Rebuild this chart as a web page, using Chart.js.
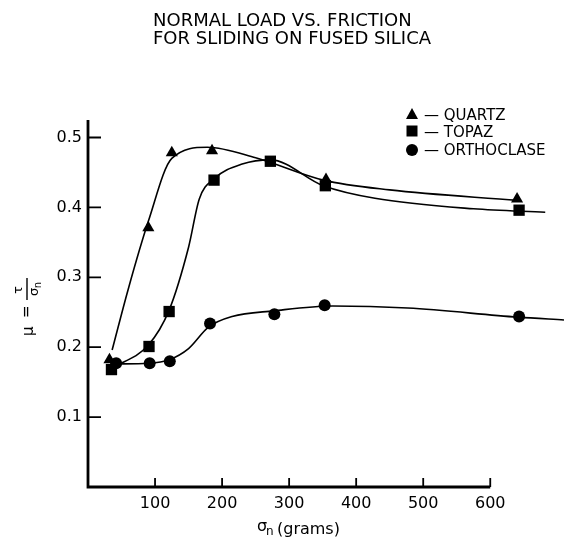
<!DOCTYPE html>
<html>
<head>
<meta charset="utf-8">
<script src="https://cdn.jsdelivr.net/npm/chart.js"></script>
<style>
  body { margin: 0; background: #fff; }
  #wrap { width: 572px; height: 538px; position: relative; }
</style>
</head>
<body>
<div id="wrap"><canvas id="chart"></canvas></div>
<script>
// measured points (load in grams, friction coefficient)
const quartzLoad = [32, 90, 125, 185, 355, 640];
const quartzMu = [0.182, 0.371, 0.478, 0.481, 0.440, 0.412];
const topazLoad = [35, 91, 121, 188, 272, 354, 643];
const topazMu = [0.168, 0.201, 0.251, 0.439, 0.466, 0.431, 0.396];
const orthoLoad = [42, 92, 122, 182, 278, 353, 643];
const orthoMu = [0.177, 0.177, 0.180, 0.234, 0.247, 0.260, 0.244];

// hand drawn fitted curves
const quartzCurveX = [36, 60, 90, 125, 178, 250, 351, 450, 640];
const quartzCurveY = [0.196, 0.283, 0.38, 0.47, 0.486, 0.471, 0.439, 0.425, 0.41];
const topazCurveX = [35, 90, 121, 150, 166, 188, 230, 272, 351, 428, 575, 682];
const topazCurveY = [0.17, 0.203, 0.253, 0.343, 0.412, 0.441, 0.462, 0.468, 0.431, 0.413, 0.398, 0.393];
const orthoCurveX = [40, 91, 121, 150, 180, 215, 277, 365, 477, 641, 710];
const orthoCurveY = [0.176, 0.177, 0.182, 0.198, 0.229, 0.244, 0.252, 0.259, 0.256, 0.243, 0.239];

const xTicks = [100, 200, 300, 400, 500, 600];
const yTicks = [0.1, 0.2, 0.3, 0.4, 0.5];
const legendNames = ['QUARTZ', 'TOPAZ', 'ORTHOCLASE'];

const FONT = '"DejaVu Sans", sans-serif';

function pts(xs, ys) {
  return xs.map((x, i) => ({ x: x, y: ys[i] }));
}

function curve(xs, ys) {
  return {
    data: pts(xs, ys),
    showLine: true,
    borderColor: '#000',
    borderWidth: 1.6,
    pointRadius: 0,
    cubicInterpolationMode: 'monotone',
    order: 2
  };
}

function marks(xs, ys, style, r) {
  return {
    data: pts(xs, ys),
    showLine: false,
    pointStyle: style,
    pointRadius: r,
    pointHoverRadius: r,
    backgroundColor: '#000',
    borderColor: '#000',
    borderWidth: 0,
    order: 1
  };
}

// axes lines, ticks, titles and legend drawn on top of chart
const decor = {
  id: 'decor',
  afterDraw(chart) {
    const ctx = chart.ctx;
    const xs = chart.scales.x, ys = chart.scales.y;
    const x0 = xs.getPixelForValue(0), x600 = xs.getPixelForValue(600);
    const yb = ys.getPixelForValue(0), yt = ys.getPixelForValue(0.525);
    ctx.save();
    ctx.strokeStyle = '#000';
    ctx.lineWidth = 2.8;
    ctx.beginPath();
    ctx.moveTo(x0, yt);
    ctx.lineTo(x0, yb);
    ctx.lineTo(x600, yb);
    ctx.stroke();
    ctx.lineWidth = 1.8;
    ctx.beginPath();
    xTicks.forEach(v => {
      const px = xs.getPixelForValue(v);
      ctx.moveTo(px, yb);
      ctx.lineTo(px, yb - 9);
    });
    yTicks.forEach(v => {
      const py = ys.getPixelForValue(v);
      ctx.moveTo(x0, py);
      ctx.lineTo(x0 + 13, py);
    });
    ctx.stroke();

    // title
    ctx.fillStyle = '#000';
    ctx.font = '18px ' + FONT;
    ctx.textAlign = 'left';
    ctx.textBaseline = 'alphabetic';
    ctx.fillText('NORMAL LOAD VS. FRICTION', 153, 26);
    ctx.fillText('FOR SLIDING ON FUSED SILICA', 153, 44);

    // x axis title
    ctx.font = '16px ' + FONT;
    ctx.fillText('\u03c3', 257, 531);
    ctx.font = '12px ' + FONT;
    ctx.fillText('n', 266, 535);
    ctx.font = '16px ' + FONT;
    ctx.fillText('(grams)', 277, 534);

    // y axis title, rotated
    ctx.save();
    ctx.translate(27, 336);
    ctx.rotate(-Math.PI / 2);
    ctx.textBaseline = 'middle';
    ctx.font = '15px ' + FONT;
    ctx.fillText('\u03bc', 0, 2);
    ctx.fillText('=', 18, 0);
    ctx.lineWidth = 1.4;
    ctx.beginPath();
    ctx.moveTo(36, 0);
    ctx.lineTo(58, 0);
    ctx.stroke();
    ctx.textAlign = 'center';
    ctx.font = '13px ' + FONT;
    ctx.fillText('\u03c4', 46, -8);
    ctx.fillText('\u03c3', 44, 8);
    ctx.font = '10px ' + FONT;
    ctx.fillText('n', 51, 11);
    ctx.restore();

    // legend
    const styles = ['triangle', 'rect', 'circle'];
    const rowY = [115, 132, 150];
    const markY = [114, 131, 150];
    ctx.font = '15px ' + FONT;
    ctx.textAlign = 'left';
    ctx.textBaseline = 'middle';
    legendNames.forEach((name, i) => {
      const mx = 412, my = markY[i];
      ctx.beginPath();
      if (styles[i] === 'triangle') {
        ctx.moveTo(mx, my - 6);
        ctx.lineTo(mx + 6, my + 5);
        ctx.lineTo(mx - 6, my + 5);
        ctx.closePath();
      } else if (styles[i] === 'rect') {
        ctx.rect(mx - 5.5, my - 5.5, 11, 11);
      } else {
        ctx.arc(mx, my, 6, 0, Math.PI * 2);
      }
      ctx.fill();
      ctx.fillText('\u2014 ' + name, 424, rowY[i] + 1);
    });
    ctx.restore();
  }
};

new Chart(document.getElementById('chart').getContext('2d'), {
  type: 'scatter',
  data: {
    datasets: [
      curve(quartzCurveX, quartzCurveY),
      curve(topazCurveX, topazCurveY),
      curve(orthoCurveX, orthoCurveY),
      marks(quartzLoad, quartzMu, 'triangle', 7),
      marks(topazLoad, topazMu, 'rect', 8),
      marks(orthoLoad, orthoMu, 'circle', 6)
    ]
  },
  options: {
    responsive: true,
    maintainAspectRatio: false,
    animation: false,
    layout: { padding: { top: 120, right: 0, left: 0, bottom: 0 } },
    plugins: {
      legend: { display: false },
      title: { display: false },
      tooltip: { enabled: false }
    },
    scales: {
      x: {
        type: 'linear',
        min: 0,
        max: 710,
        grid: { display: false, drawTicks: false },
        border: { display: false },
        afterBuildTicks: s => { s.ticks = xTicks.map(v => ({ value: v })); },
        afterFit: s => { s.height = 51; },
        ticks: {
          padding: 7,
          color: '#000',
          font: { family: FONT, size: 16 },
          callback: v => String(v)
        }
      },
      y: {
        type: 'linear',
        min: 0,
        max: 0.525,
        grid: { display: false, drawTicks: false },
        border: { display: false },
        afterBuildTicks: s => { s.ticks = yTicks.map(v => ({ value: v })); },
        afterFit: s => { s.width = 88; },
        ticks: {
          padding: 6,
          color: '#000',
          font: { family: FONT, size: 16 },
          callback: v => Number(v).toFixed(1)
        }
      }
    }
  },
  plugins: [decor]
});
</script>
</body>
</html>
